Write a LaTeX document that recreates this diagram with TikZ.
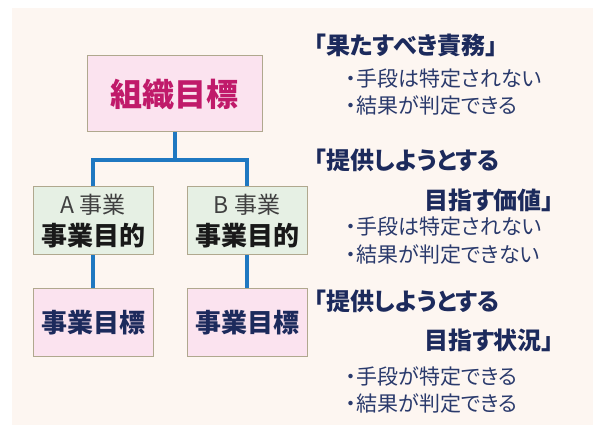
\documentclass[tikz,border=0pt]{standalone}
\usepackage{fontspec}
\setmainfont{Noto Sans CJK JP}
\newfontfamily\pfont[RawFeature=+palt]{Noto Sans CJK JP}
\definecolor{panel}{HTML}{FDF6F1}
\definecolor{pinkfill}{HTML}{FBE3EF}
\definecolor{greenfill}{HTML}{E6F0E4}
\definecolor{boxline}{HTML}{B0A88E}
\definecolor{crimson}{HTML}{C01A6A}
\definecolor{navy}{HTML}{1C2A5C}
\definecolor{navylight}{HTML}{2A3A6C}
\definecolor{connblue}{HTML}{1F78C1}
\begin{document}
\begin{tikzpicture}[x=1pt,y=-1pt,
  box/.style={draw=boxline, line width=1pt, inner sep=0pt},
  conn/.style={draw=connblue, line width=4pt, line join=miter},
  head/.style={anchor=west, inner sep=0pt, text=navy, font=\pfont\fontsize{24}{28}\selectfont\bfseries},
  bullet/.style={anchor=west, inner sep=0pt, text=navylight, font=\pfont\fontsize{21}{24}\selectfont},
  lbl/.style={inner sep=0pt}
]
\useasboundingbox (0,0) rectangle (597,427);
\fill[panel] (12,8) rectangle (593,425);

% boxes
\node[box, fill=pinkfill, minimum width=175pt, minimum height=76pt,
      text=crimson, font=\fontsize{32}{36}\selectfont\bfseries] (top) at (174.5,94) {組織目標};
\node[box, fill=greenfill, minimum width=120pt, minimum height=68pt] (a) at (93,221) {};
\node[box, fill=greenfill, minimum width=120pt, minimum height=68pt] (b) at (247,221) {};
\node[lbl, text=black!75, font=\fontsize{23}{26}\selectfont] (alab) at (93,205) {A 事業};
\node[lbl, text=black!90, font=\fontsize{26}{30}\selectfont\bfseries] (apur) at (93,236) {事業目的};
\node[lbl, text=black!75, font=\fontsize{23}{26}\selectfont] (blab) at (247,205) {B 事業};
\node[lbl, text=black!90, font=\fontsize{26}{30}\selectfont\bfseries] (bpur) at (247,236) {事業目的};
\node[box, fill=pinkfill, minimum width=120pt, minimum height=68pt,
      text=navy, font=\fontsize{26}{30}\selectfont\bfseries] (ag) at (93,322.5) {事業目標};
\node[box, fill=pinkfill, minimum width=120pt, minimum height=68pt,
      text=navy, font=\fontsize{26}{30}\selectfont\bfseries] (bg) at (247,322.5) {事業目標};

% connectors
\coordinate (j) at (174,160);
\draw[conn] (top.south) -- (top.south |- j);
\draw[conn] (a.north) -- (a.north |- j) -- (b.north |- j) -- (b.north);
\draw[conn] (a.south) -- (ag.north);
\draw[conn] (b.south) -- (bg.north);

% right texts
\node[head] (h1) at (314,45) {「果たすべき責務」};
\node[bullet] (h1a) at (346,79) {・手段は特定されない};
\node[bullet] (h1b) at (346,106) {・結果が判定できる};
\node[head] (h2) at (314,160) {「提供しようとする};
\node[head] (h2b) at (424,200) {目指す価値」};
\node[bullet] (h2c) at (346,227) {・手段は特定されない};
\node[bullet] (h2d) at (346,255) {・結果が判定できない};
\node[head] (h3) at (314,301) {「提供しようとする};
\node[head] (h3b) at (424,340) {目指す状況」};
\node[bullet] (h3c) at (346,377) {・手段が特定できる};
\node[bullet] (h3d) at (346,404) {・結果が判定できる};
\end{tikzpicture}
\end{document}
